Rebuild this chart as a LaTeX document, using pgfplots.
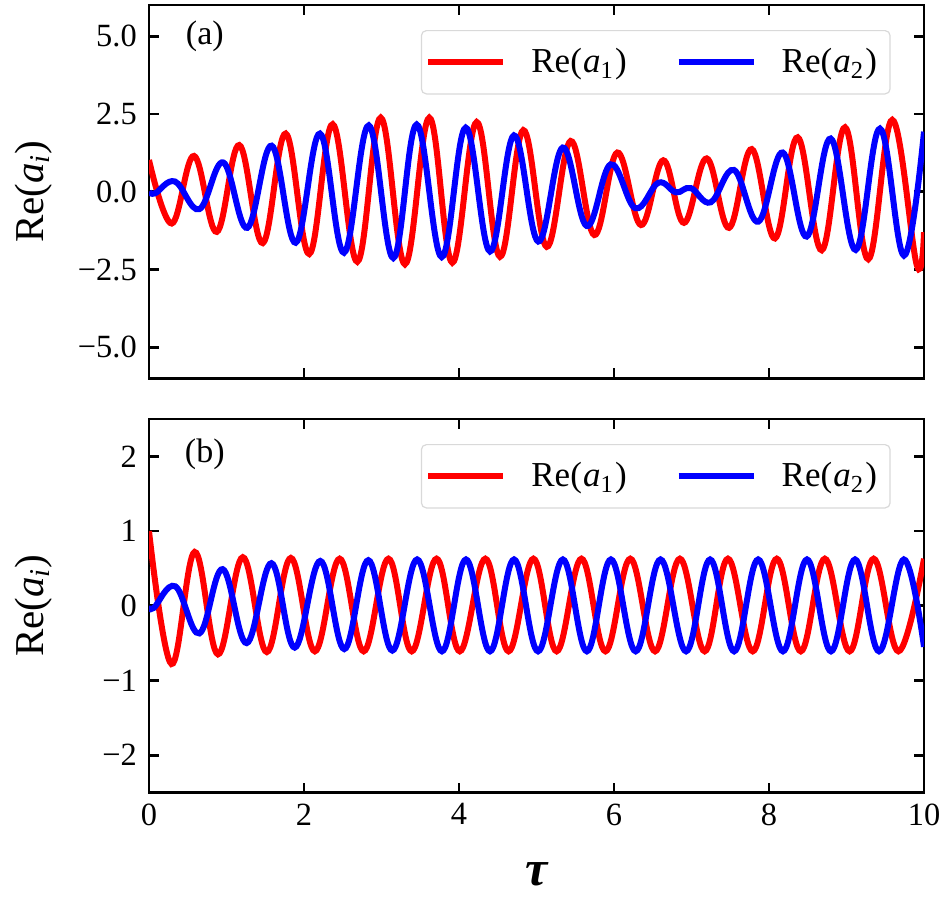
\documentclass[border=0pt]{standalone}
\usepackage{fontspec}
\setmainfont{Liberation Serif}
\newfontfamily\tickfont{Liberation Serif}
\usepackage{pgfplots}
\pgfplotsset{compat=1.18}
\definecolor{myred}{RGB}{255,0,0}
\definecolor{myblue}{RGB}{0,0,255}
\newcommand{\ticksize}{\tickfont\fontsize{16.2}{18}\selectfont}
\newcommand{\reA}[1]{Re(\kern0.6pt\textit{a}\textsubscript{#1}\kern0.6pt)}
\begin{document}
\begin{tikzpicture}
\pgfplotsset{
  panel/.style={
    scale only axis, width=387.5pt, height=186.75pt,
    xmin=0, xmax=10,
    axis line style={line width=1.4pt},
    tick align=inside, tick pos=both,
    major tick length=5pt,
    every tick/.style={black, line width=1.4pt},
    yticklabel style={font=\ticksize, xshift=-2.6pt},
    xticklabel style={font=\ticksize, yshift=-2pt},
    /pgf/number format/assume math mode=true,
    xtick={0,2,4,6,8,10},
    legend columns=2,
    legend cell align=left,
    legend style={at={(rel axis cs:0.957,0.933)}, anchor=north east,
      draw=black!15, line width=0.6pt, rounded corners=2.5pt,
      font=\fontsize{17.5}{20}\selectfont,
      inner xsep=2pt, inner ysep=7pt,
      /tikz/every odd column/.append style={column sep=8pt},
      /tikz/every even column/.append style={column sep=20pt},
      nodes={inner xsep=4.5pt}},
    legend image code/.code={\draw[##1] (0pt,0pt) -- (37.5pt,0pt);},
    ylabel style={at={(axis description cs:-0.149,0.5)}, anchor=center,
      font=\fontsize{20.5}{24}\selectfont},
  },
  curve/.style={line width=3pt, smooth, tension=0.65},
}
% ---------------- panel (a)
\begin{axis}[panel, at={(0,0)},
  ymin=-6, ymax=6,
  ytick={-5,-2.5,0,2.5,5},
  yticklabels={{\ticksize −5.0},{\ticksize −2.5},{\ticksize 0.0},{\ticksize 2.5},{\ticksize 5.0}},
  xticklabels={},
  ylabel={Re(\textit{a}\textsubscript{\textit{i}})}]
\addplot[curve, myred] coordinates {
(0,1.02) (0.293,-1.02) (0.581,1.15) (0.874,-1.29) (1.165,1.50) (1.467,-1.65)
(1.764,1.87) (2.068,-2.00) (2.370,2.17) (2.688,-2.25) (2.990,2.38) (3.303,-2.33)
(3.617,2.38) (3.914,-2.28) (4.228,2.24) (4.529,-2.09) (4.830,1.98) (5.132,-1.77)
(5.441,1.63) (5.746,-1.39) (6.043,1.26) (6.348,-1.07) (6.636,1.01) (6.903,-1.00)
(7.196,1.07) (7.484,-1.16) (7.777,1.37) (8.077,-1.50) (8.370,1.75) (8.680,-1.88)
(8.981,2.07) (9.281,-2.17) (9.591,2.31) (9.906,-2.35) (10.0,-1.30)
};
\addlegendentry{\reA{1}}
\addplot[curve, myblue] coordinates {
(0,0.00) (0.08,-0.05) (0.335,0.33) (0.649,-0.56) (0.959,0.94) (1.268,-1.16)
(1.583,1.48) (1.893,-1.64) (2.206,1.87) (2.516,-1.96) (2.835,2.13) (3.152,-2.13)
(3.454,2.16) (3.777,-2.10) (4.086,2.06) (4.400,-1.92) (4.710,1.81) (5.023,-1.60)
(5.338,1.42) (5.648,-1.10) (5.957,0.88) (6.275,-0.53) (6.572,0.29) (6.800,-0.02)
(6.990,0.12) (7.248,-0.34) (7.548,0.70) (7.862,-0.96) (8.177,1.26) (8.486,-1.44)
(8.796,1.71) (9.119,-1.87) (9.432,2.03) (9.742,-2.05) (10.0,1.93)
};
\addlegendentry{\reA{2}}
\node[font=\fontsize{17}{20}\selectfont] at (rel axis cs:0.072,0.915) {(a)};
\end{axis}
% ---------------- panel (b)
\begin{axis}[panel, at={(0,-207pt)},
  ymin=-2.5, ymax=2.5,
  ytick={-2,-1,0,1,2},
  yticklabels={{\ticksize −2},{\ticksize −1},{\ticksize 0},{\ticksize 1},{\ticksize 2}},
  xticklabels={{\ticksize 0},{\ticksize 2},{\ticksize 4},{\ticksize 6},{\ticksize 8},{\ticksize 10}},
  xlabel={\bfseries\itshape τ},
  xlabel style={at={(axis description cs:0.5,0)}, anchor=center, yshift=-41pt,
    font=\fontsize{25}{28}\selectfont},
  ylabel={Re(\textit{a}\textsubscript{\textit{i}})}]
\addplot[curve, myred] coordinates {
(0,1.00) (0.29,-0.78) (0.59,0.72) (0.89,-0.65) (1.21,0.65) (1.52,-0.62)
(1.83,0.64) (2.14,-0.61) (2.46,0.63) (2.77,-0.61) (3.09,0.63) (3.39,-0.61)
(3.71,0.63) (4.01,-0.61) (4.34,0.63) (4.64,-0.61) (4.96,0.63) (5.26,-0.61)
(5.58,0.63) (5.89,-0.61) (6.21,0.63) (6.53,-0.61) (6.85,0.63) (7.17,-0.61)
(7.47,0.63) (7.79,-0.61) (8.10,0.63) (8.41,-0.61) (8.72,0.63) (9.04,-0.61)
(9.35,0.63) (9.67,-0.61) (10.0,0.63)
};
\addlegendentry{\reA{1}}
\addplot[curve, myblue] coordinates {
(0,0.00) (0.06,-0.03) (0.34,0.26) (0.65,-0.37) (0.95,0.49) (1.26,-0.50)
(1.58,0.57) (1.88,-0.56) (2.21,0.60) (2.52,-0.58) (2.83,0.61) (3.14,-0.60)
(3.46,0.62) (3.78,-0.61) (4.09,0.62) (4.40,-0.61) (4.71,0.62) (5.02,-0.61)
(5.34,0.62) (5.65,-0.61) (5.96,0.62) (6.28,-0.61) (6.60,0.62) (6.93,-0.61)
(7.24,0.62) (7.55,-0.61) (7.86,0.62) (8.18,-0.61) (8.49,0.62) (8.80,-0.61)
(9.11,0.62) (9.42,-0.61) (9.74,0.62) (10.0,-0.55)
};
\addlegendentry{\reA{2}}
\node[font=\fontsize{17}{20}\selectfont] at (rel axis cs:0.072,0.905) {(b)};
\end{axis}
\pgfresetboundingbox
\path (-74.5pt,-259.5pt) rectangle (398pt,189.25pt);
\end{tikzpicture}
\end{document}
